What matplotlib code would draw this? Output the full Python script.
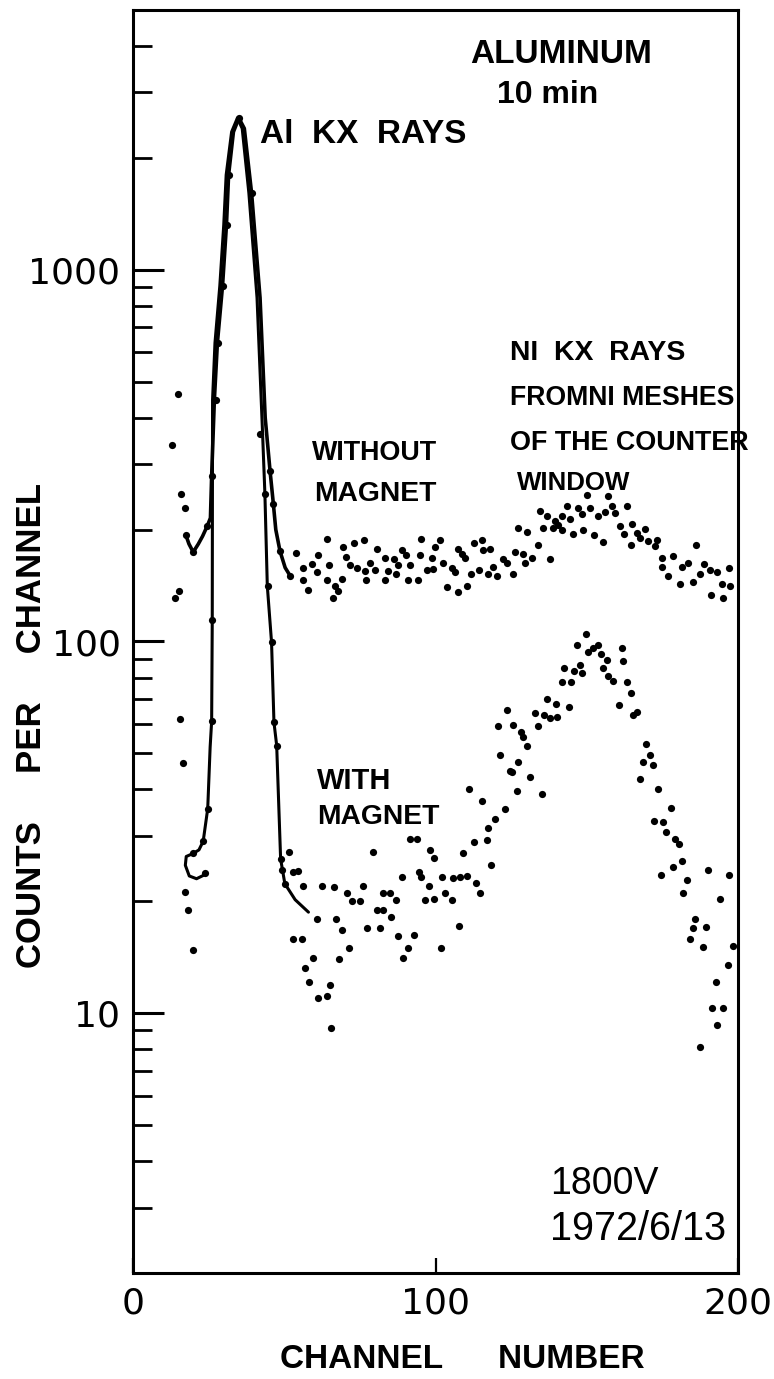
import numpy as np
import matplotlib
matplotlib.use("Agg")
import matplotlib.pyplot as plt
from matplotlib.ticker import LogLocator, NullFormatter

# ---- data (channel, counts per channel) ----

# fitted curves through the Al KX peak
wo_line_ch = [17.5, 18.5, 19.9, 21.6, 23.0, 24.6, 25.6, 26.0, 26.9, 27.9, 29.6, 30.9, 31.6,
              33.2, 35.0, 36.8, 39.2, 42.0, 43.7, 45.3, 46.3, 47.2, 48.6, 50.3, 52.0]
wo_line_ct = [193, 183, 174, 183, 192, 205, 215, 279, 447, 636, 906, 1321, 1800,
              2350, 2560, 2400, 1610, 841, 400, 288, 239, 200, 175, 158, 150]

w_line_ch = [23.8, 21.0, 18.6, 17.3, 17.6, 19.9, 21.8, 23.2, 24.7, 25.5, 26.0, 26.2, 26.3,
             27.1, 28.7, 30.0, 30.8, 32.6, 34.5, 36.1, 38.3, 41.0, 42.8, 43.6, 44.4,
             45.8, 46.6, 47.5, 48.8, 50.2, 53.6, 58.0]
w_line_ct = [23.6, 23.0, 23.4, 25.0, 26.4, 26.9, 27.5, 29.0, 35.5, 52.0, 61.0, 114, 447,
             636, 906, 1321, 1800, 2350, 2560, 2400, 1610, 841, 369, 250, 141,
             99.5, 60.6, 52.5, 26.0, 22.3, 20.2, 18.7]

# measured points, without magnet
wo_ch = [12.8, 15.0, 15.8, 17.2, 13.9, 15.3,
         17.5, 19.9, 24.6, 26.0, 27.3, 28.2, 29.8, 31.0, 31.6, 35.0, 39.3, 42.0, 45.3, 46.2, 48.6,
         64.0, 69.5, 73.1, 76.4, 80.5, 61.3, 53.8, 59.1, 64.9, 70.4, 71.7, 73.9, 76.7, 78.3,
         80.0, 56.3, 51.9, 56.3, 60.7, 64.0, 58.0, 66.8, 67.9, 66.2, 69.0, 77.0, 83.3, 84.4,
         86.3, 87.7, 88.8, 90.4, 87.1, 83.3, 91.6, 91.0, 94.3, 94.9, 95.1, 97.1, 99.3, 98.7,
         99.8, 101.5, 102.6, 105.4, 106.4, 107.5, 108.6, 109.8, 112.7, 115.3, 118.0, 115.8,
         111.9, 114.5, 117.5, 120.2, 119.1, 122.4, 103.7, 107.5, 110.5,
         123.5, 126.3, 129.0, 129.6, 131.8, 125.7, 137.9, 134.0, 127.4, 130.4, 135.6, 134.5,
         137.0, 138.7, 139.5, 140.6, 141.7, 141.7, 143.4, 144.5, 145.6, 147.2, 148.3, 148.9,
         150.2, 151.1, 152.4, 153.8, 155.3, 156.0, 157.1, 158.2, 159.3, 163.2, 161.0, 162.3,
         164.8, 164.5, 166.5, 167.6, 169.3, 170.4, 173.1, 172.6, 174.8, 174.8, 177.0, 178.6,
         180.8, 181.4, 183.6, 185.0, 186.1, 187.4, 188.8, 190.7, 192.9, 191.1, 194.6, 194.9,
         197.4, 197.1]
wo_ct = [337, 464, 249, 228, 131, 137,
         193, 174, 205, 279, 447, 636, 906, 1321, 1800, 2560, 1610, 361, 288, 234, 175,
         189, 180, 184, 188, 177, 171, 173, 162, 161, 169, 161, 158, 155, 163,
         156, 158, 150, 146, 154, 146, 138, 141, 137, 131, 147, 146, 168, 155,
         167, 161, 176, 171, 152, 146, 161, 146, 146, 171, 189, 156, 157, 168,
         180, 188, 163, 158, 154, 177, 172, 168, 184, 188, 177, 176,
         152, 156, 152, 150, 159, 167, 140, 136, 141,
         163, 174, 172, 163, 168, 152, 167, 182, 202, 197, 202, 225,
         218, 202, 211, 206, 218, 199, 232, 214, 195, 229, 220, 199,
         248, 229, 193, 218, 185, 223, 247, 232, 222, 231, 205, 195,
         207, 182, 196, 190, 201, 186, 188, 181, 168, 159, 150, 170,
         143, 159, 163, 145, 182, 152, 162, 156, 154, 133, 143, 131,
         141, 158]

# measured points, with magnet
w_ch = [15.5, 16.6, 17.2, 18.3, 19.9,
        26.2, 26.0, 24.7, 23.2, 19.9, 23.8, 43.8, 44.7, 45.8, 46.6, 47.5, 48.8, 49.2, 50.2,
        51.7, 53.0, 54.6, 56.3, 62.4, 66.4, 70.6, 76.1, 72.3, 75.0, 79.2, 60.7, 67.1, 69.0,
        53.0, 55.8, 59.4, 56.9, 58.3, 61.3, 64.2, 65.1, 65.5, 68.2, 71.5, 80.5, 82.8, 77.2,
        81.7, 85.3, 82.5, 84.9, 86.9, 87.5, 89.4, 91.0, 92.9, 88.8, 91.6, 93.8, 94.6, 95.2,
        98.2, 99.5, 97.7, 96.5, 99.6, 102.3, 103.1, 105.4, 101.8, 105.7, 108.1, 110.5, 107.8,
        113.4, 114.7, 109.2, 112.8, 118.5, 116.9, 117.5, 119.7, 123.0, 111.2, 115.4, 121.3,
        124.6,
        149.8, 146.7, 150.5, 152.2, 153.8, 154.6, 156.6, 155.5, 157.1, 158.6, 161.5, 161.9,
        163.2, 164.5, 160.8, 165.2, 166.5, 147.8, 145.8, 148.3, 142.5, 141.7, 144.7, 144.1,
        139.8, 137.0, 136.0, 137.9, 140.3, 132.9, 134.0, 123.5, 120.8, 125.5, 128.2, 129.0,
        130.4, 127.4, 125.2, 131.4, 127.0, 135.1, 169.6, 170.9, 168.7, 171.8, 167.6, 173.4,
        177.7, 172.3, 175.3, 176.1, 179.2, 180.6, 181.6, 178.4, 174.5, 183.2, 181.7, 190.2,
        197.1, 194.2, 185.8, 185.0, 189.4, 184.1, 188.3, 198.5, 196.6, 192.7, 191.5, 195.1,
        193.1, 187.4]
w_ct = [62, 47, 21.2, 19.0, 14.8,
        114, 61, 35.5, 29.0, 26.9, 23.8, 250, 141, 99.5, 60.6, 52.5, 26.0, 24.3, 22.3,
        27.1, 24.0, 24.1, 22.0, 22.0, 21.9, 21.1, 22.0, 20.0, 20.0, 27.2, 17.9, 17.9, 16.7,
        15.8, 15.8, 14.1, 13.2, 12.1, 11.0, 11.1, 11.9, 9.1, 14.0, 15.0, 19.0, 19.0, 17.0,
        16.9, 18.2, 21.1, 21.1, 20.2, 16.1, 14.1, 15.0, 16.2, 23.2, 29.4, 29.4, 24.0, 23.2,
        27.4, 26.2, 22.0, 20.2, 20.3, 23.2, 21.0, 20.2, 15.0, 23.1, 23.2, 23.4, 17.2,
        22.4, 21.1, 27.0, 28.9, 25.0, 29.3, 31.5, 33.4, 35.5, 40.0, 37.3, 49.4,
        44.9,
        104.8, 97.7, 93.9, 95.8, 97.7, 92.5, 89.2, 85.1, 80.9, 78.2, 96.2, 88.7,
        77.7, 72.5, 67.5, 63.4, 64.8, 86.5, 83.4, 82.2, 84.8, 77.7, 77.7, 66.8,
        67.8, 70.2, 63.4, 62.1, 62.7, 64.4, 59.4, 65.4, 59.4, 59.6, 57.2, 55.5,
        52.3, 47.4, 44.6, 43.3, 39.7, 38.8, 52.9, 49.5, 47.4, 46.4, 42.7, 40.0,
        35.6, 32.9, 32.7, 30.7, 29.4, 28.6, 25.7, 24.7, 23.6, 22.8, 21.1, 24.3,
        23.5, 20.3, 17.9, 16.9, 17.1, 15.8, 15.1, 15.2, 13.5, 12.1, 10.3, 10.3,
        9.3, 8.1]

sans = ['Liberation Sans', 'DejaVu Sans']
digits = ['DejaVu Sans']

W, H = 774, 1379
fig = plt.figure(figsize=(W / 100, H / 100), dpi=100)
ax = fig.add_axes([133 / W, 106 / H, 605 / W, 1263 / H])

ax.plot(wo_line_ch, wo_line_ct, color='black', lw=2.6, solid_capstyle='round')
ax.plot(w_line_ch, w_line_ct, color='black', lw=2.2, solid_capstyle='round')
ax.plot(wo_ch, wo_ct, 'o', color='black', ms=5.2, mew=0)
ax.plot(w_ch, w_ct, 'o', color='black', ms=5.2, mew=0)

ax.set_yscale('log')
ax.set_xlim(0, 200)
ax.set_ylim(2, 5000)

for s in ax.spines.values():
    s.set_linewidth(2.2)

ax.set_yticks([10, 100, 1000], labels=['10', '100', '1000'])
ax.yaxis.set_minor_locator(LogLocator(base=10, subs=np.arange(2, 10)))
ax.yaxis.set_minor_formatter(NullFormatter())
ax.tick_params(axis='y', which='major', direction='in', length=22, width=2.2,
               pad=9, labelsize=26, right=False)
ax.tick_params(axis='y', which='minor', direction='in', length=14, width=2.0, right=False)
ax.set_xticks([0, 100, 200], labels=['0', '100', '200'])
ax.tick_params(axis='x', which='major', direction='in', length=11, width=1.6,
               pad=10, labelsize=26, top=False)
for lab in ax.get_xticklabels() + ax.get_yticklabels():
    lab.set_family(digits)

txt = dict(color='black', ha='left', va='baseline', fontweight='bold', family=sans)
ax.text(111.4, 3602, 'ALUMINUM', fontsize=24, **txt)
ax.text(120.3, 2812, '10 min', fontsize=23, **txt)
ax.text(42.0, 2193, 'Al  KX  RAYS', fontsize=24, **txt)
ax.text(124.6, 573, 'NI  KX  RAYS', fontsize=20.4, **txt)
ax.text(124.6, 434, 'FROMNI MESHES', fontsize=19.2, **txt)
ax.text(124.6, 328, 'OF THE COUNTER', fontsize=19.4, **txt)
ax.text(126.9, 255, 'WINDOW', fontsize=18.6, **txt)
ax.text(59.2, 307, 'WITHOUT', fontsize=19.4, **txt)
ax.text(59.8, 239, 'MAGNET', fontsize=20.3, **txt)
ax.text(60.8, 40.0, 'WITH', fontsize=20.9, **txt)
ax.text(60.8, 32.2, 'MAGNET', fontsize=20.3, **txt)
ax.text(137.9, 3.26, '1800V', family=sans, fontsize=27, color='black', ha='left', va='baseline')
ax.text(137.9, 2.45, '1972/6/13', family=sans, fontsize=28.5, color='black', ha='left',
        va='baseline')

fig.text(32 / W, 1 - 725 / H, 'COUNTS     PER     CHANNEL', rotation=90, ha='center',
         va='center', family=sans, fontweight='bold', fontsize=25)
fig.text(462 / W, 1 - 1360 / H, 'CHANNEL      NUMBER', ha='center', va='center',
         family=sans, fontweight='bold', fontsize=24)

fig.savefig('out.png', dpi=100, facecolor='white')
